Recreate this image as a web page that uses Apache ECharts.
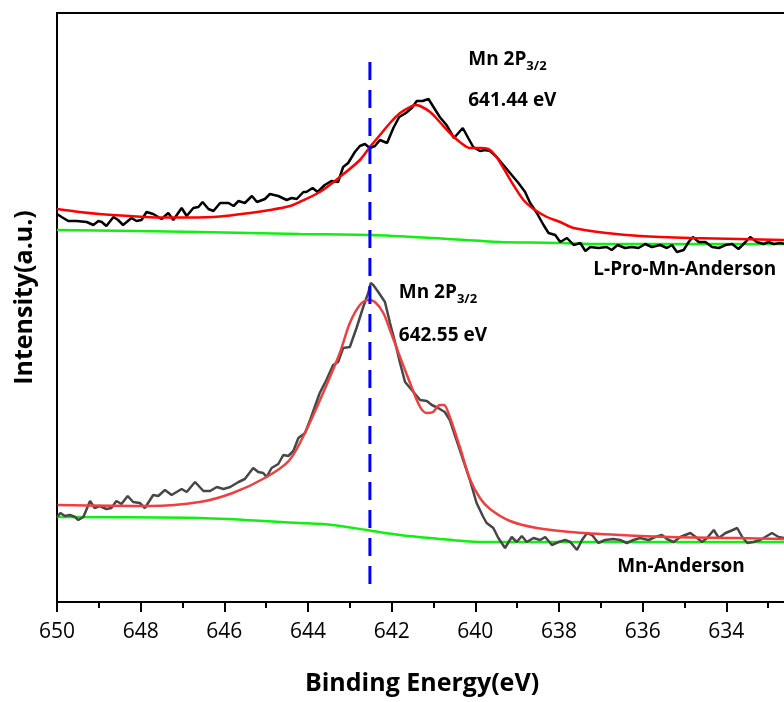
<!DOCTYPE html>
<html>
<head>
<meta charset="utf-8">
<title>Mn 2P XPS</title>
<script src="https://cdn.jsdelivr.net/npm/echarts@6/dist/echarts.min.js"></script>
<style>
  html, body { margin: 0; padding: 0; background: #fff; }
  #xps { width: 784px; height: 702px; }
</style>
</head>
<body>
<div id="xps"></div>
<script>
// [binding energy (eV), intensity (a.u.)]
const proRaw = [
  [650.00, 388], [649.89, 385], [649.73, 381], [649.53, 381], [649.29, 380], [649.13, 377],
  [649.01, 381], [648.93, 380], [648.82, 376], [648.65, 385], [648.54, 382], [648.42, 377],
  [648.22, 384], [648.10, 381], [647.98, 382], [647.86, 390], [647.70, 388], [647.50, 383],
  [647.34, 389], [647.22, 382], [647.02, 394], [646.90, 386], [646.74, 394], [646.62, 395],
  [646.52, 400], [646.38, 393], [646.26, 391], [646.10, 399], [645.90, 399], [645.78, 396],
  [645.66, 401], [645.51, 399], [645.34, 406], [645.22, 400], [645.03, 403], [644.91, 408],
  [644.71, 406], [644.51, 402], [644.39, 404], [644.27, 403], [644.11, 410], [644.04, 410],
  [643.89, 414], [643.77, 410], [643.60, 417], [643.44, 421], [643.28, 420], [643.16, 435],
  [643.04, 439], [642.88, 450], [642.76, 456], [642.64, 458], [642.52, 454], [642.40, 456],
  [642.28, 462], [642.11, 459], [641.96, 474], [641.82, 485], [641.66, 489], [641.52, 494],
  [641.40, 501], [641.26, 501], [641.12, 503], [641.00, 495], [640.85, 485], [640.69, 477],
  [640.51, 464], [640.30, 474], [640.17, 464], [640.05, 455], [639.89, 451], [639.77, 452],
  [639.65, 451], [639.49, 445], [639.33, 437], [639.17, 429], [638.97, 419], [638.81, 410],
  [638.69, 399], [638.53, 389], [638.37, 377], [638.25, 369], [638.09, 367], [637.97, 360],
  [637.81, 364], [637.65, 357], [637.49, 359], [637.37, 351], [637.25, 355], [637.06, 354],
  [636.86, 355], [636.74, 352], [636.60, 357], [636.42, 354], [636.26, 355], [636.10, 354],
  [635.94, 358], [635.78, 355], [635.58, 357], [635.42, 354], [635.30, 357], [635.18, 350],
  [635.02, 352], [634.90, 360], [634.80, 365], [634.66, 360], [634.50, 360], [634.34, 355],
  [634.18, 354], [634.02, 357], [633.86, 358], [633.71, 353], [633.54, 360], [633.43, 365],
  [633.27, 360], [633.11, 358], [632.99, 360], [632.87, 358], [632.71, 359], [632.59, 358]
]
const proFit = [
  [650.00, 393], [649.46, 390], [648.98, 388], [648.26, 386], [647.55, 384.5], [646.83, 384.5],
  [646.10, 385.5], [645.39, 389], [644.91, 392], [644.43, 396], [644.20, 400], [643.72, 410],
  [643.24, 425], [642.76, 442], [642.52, 455], [642.28, 467], [642.04, 479], [641.80, 489],
  [641.56, 495], [641.44, 497], [641.32, 496], [641.08, 490], [640.85, 480], [640.61, 469],
  [640.37, 460], [640.13, 454], [639.89, 454], [639.69, 453], [639.53, 447], [639.33, 434],
  [639.09, 417], [638.85, 402], [638.61, 393], [638.29, 385], [637.97, 380], [637.65, 374],
  [636.86, 369], [636.06, 366], [634.86, 364], [633.67, 363], [632.59, 362]
]
const proBg = [
  [650.00, 372], [646.59, 370], [644.20, 368], [642.52, 367], [641.01, 364], [639.41, 360],
  [638.69, 359.5], [637.97, 359], [637.02, 358], [632.59, 358]
]

const mnRaw = [
  [650.00, 85], [649.92, 89], [649.81, 86], [649.69, 87], [649.57, 85], [649.49, 82],
  [649.37, 85], [649.21, 101], [649.10, 94], [648.98, 96], [648.82, 93], [648.70, 94],
  [648.58, 101], [648.46, 98], [648.31, 106], [648.18, 100], [648.02, 99], [647.90, 94],
  [647.70, 107], [647.58, 106], [647.42, 112], [647.26, 107], [647.02, 113], [646.90, 110],
  [646.70, 120], [646.50, 111], [646.34, 111], [646.18, 115], [646.02, 113], [645.86, 115],
  [645.66, 120], [645.51, 123], [645.31, 134], [645.19, 130], [645.07, 129], [644.99, 125],
  [644.87, 134], [644.71, 138], [644.59, 147], [644.47, 146], [644.35, 151], [644.23, 164],
  [644.07, 169], [643.95, 182], [643.72, 209], [643.56, 222], [643.40, 237], [643.28, 240],
  [643.16, 254], [643.00, 255], [642.84, 274], [642.68, 295], [642.56, 309], [642.50, 319],
  [642.44, 317], [642.32, 310], [642.16, 300], [642.04, 279], [641.92, 260], [641.80, 239],
  [641.68, 220], [641.52, 212], [641.32, 202], [641.16, 201], [641.04, 197], [640.89, 194],
  [640.73, 190], [640.61, 182], [640.45, 162], [640.29, 142], [640.13, 122], [639.97, 99],
  [639.81, 85], [639.73, 79], [639.57, 74], [639.45, 64], [639.29, 54], [639.13, 65],
  [639.01, 60], [638.89, 66], [638.77, 60], [638.61, 64], [638.45, 62], [638.33, 65],
  [638.17, 57], [638.01, 60], [637.85, 62], [637.73, 60], [637.57, 52], [637.45, 62],
  [637.33, 69], [637.21, 67], [637.06, 59], [636.90, 62], [636.70, 63], [636.54, 62],
  [636.38, 59], [636.22, 62], [636.06, 64], [635.86, 62], [635.70, 65], [635.54, 67],
  [635.42, 63], [635.26, 60], [635.10, 65], [634.86, 69], [634.70, 64], [634.58, 60],
  [634.46, 64], [634.30, 72], [634.18, 64], [634.02, 69], [633.90, 71], [633.74, 74],
  [633.62, 65], [633.50, 59], [633.35, 60], [633.19, 62], [633.03, 66], [632.91, 69],
  [632.75, 65], [632.61, 64]
]
const mnFit = [
  [649.99, 97], [647.79, 96], [646.59, 100], [645.80, 109], [644.99, 125], [644.44, 142],
  [644.04, 172], [643.64, 209], [643.24, 249], [643.00, 279], [642.76, 297], [642.56, 302],
  [642.40, 300], [642.20, 289], [642.04, 272], [641.80, 245], [641.56, 219], [641.32, 195],
  [641.16, 189], [641.01, 190], [640.85, 197], [640.75, 197], [640.61, 185], [640.37, 155],
  [640.13, 123], [639.89, 104], [639.65, 93], [639.17, 81], [638.53, 74], [637.73, 70],
  [636.54, 67], [635.34, 65], [633.74, 64], [632.61, 63]
]
const mnBg = [
  [650.00, 85], [646.59, 84], [644.20, 79], [643.41, 77], [642.60, 72], [641.80, 67],
  [641.08, 64], [639.89, 60], [637.49, 60], [632.61, 60]
]

// reference position of the Mn 2P3/2 peak, dashed guide
const peakLine = [[642.52, 540], [642.52, 17]]

const notes = [
  { at: [640.17, 542], text: '{b|Mn 2P}{s|3/2}' },
  { at: [640.17, 501], text: '{b|641.44 eV}' },
  { at: [641.83, 309], text: '{b|Mn 2P}{s|3/2}' },
  { at: [641.83, 266], text: '{b|642.55 eV}' },
  { at: [637.18, 332], text: '{b|L-Pro-Mn-Anderson}' },
  { at: [636.61, 35], text: '{b|Mn-Anderson}' }
]

const font = 'Open Sans'
const chart = echarts.init(document.getElementById('xps'))

function curve(data, color, z, smooth) {
  return {
    type: 'line',
    data: data,
    showSymbol: false,
    smooth: smooth,
    z: z,
    lineStyle: { color: color, width: 2.5 },
    silent: true
  }
}

chart.setOption({
  animation: false,
  grid: {
    left: 57,
    top: 13,
    width: 753,
    height: 589,
    outerBoundsMode: 'none',
    containLabel: false,
    show: true,
    borderColor: '#000',
    borderWidth: 2
  },
  xAxis: {
    type: 'value',
    min: 632,
    max: 650,
    interval: 2,
    inverse: true,
    name: 'Binding Energy(eV)',
    nameLocation: 'middle',
    nameGap: 69,
    nameTextStyle: {
      fontFamily: font, fontSize: 25, fontWeight: 'bold', color: '#000',
      padding: [0, 23, 0, 0]
    },
    axisLine: { lineStyle: { color: '#000', width: 2 } },
    axisTick: { length: 10, lineStyle: { color: '#000', width: 2 } },
    minorTick: { show: true, splitNumber: 2, length: 6, lineStyle: { color: '#000', width: 2 } },
    axisLabel: { fontFamily: font, fontSize: 21, color: '#000', margin: 20 },
    splitLine: { show: false }
  },
  yAxis: {
    type: 'value',
    min: 0,
    max: 589,
    name: 'Intensity(a.u.)',
    nameLocation: 'middle',
    nameGap: 20,
    nameTextStyle: {
      fontFamily: font, fontSize: 25, fontWeight: 'bold', color: '#000',
      padding: [0, 0, 0, 20]
    },
    axisLine: { show: true, lineStyle: { color: '#000', width: 2 } },
    axisTick: { show: false },
    axisLabel: { show: false },
    splitLine: { show: false }
  },
  series: [
    curve(proBg, '#11ee11', 2, 0.3),
    curve(proRaw, '#000000', 3, false),
    curve(proFit, '#ff0000', 4, 0.3),
    curve(mnBg, '#11ee11', 2, 0.3),
    curve(mnRaw, '#474747', 3, false),
    curve(mnFit, '#ef4040', 4, 0.3),
    {
      type: 'line',
      data: peakLine,
      showSymbol: false,
      z: 6,
      lineStyle: { color: '#0000ff', width: 3, type: [18, 10] }
    },
    {
      // text annotations placed at data coordinates
      type: 'scatter',
      symbolSize: 0,
      z: 7,
      silent: true,
      itemStyle: { opacity: 1 },
      data: notes.map(n => ({
        value: n.at,
        label: { formatter: n.text }
      })),
      label: {
        show: true,
        position: 'right',
        distance: 0,
        opacity: 1,
        color: '#000',
        rich: {
          b: { fontFamily: font, fontSize: 19, fontWeight: 'bold', color: '#000', lineHeight: 26 },
          s: { fontFamily: font, fontSize: 13, fontWeight: 'bold', color: '#000', lineHeight: 12, verticalAlign: 'bottom' }
        }
      }
    }
  ]
})
</script>
</body>
</html>
